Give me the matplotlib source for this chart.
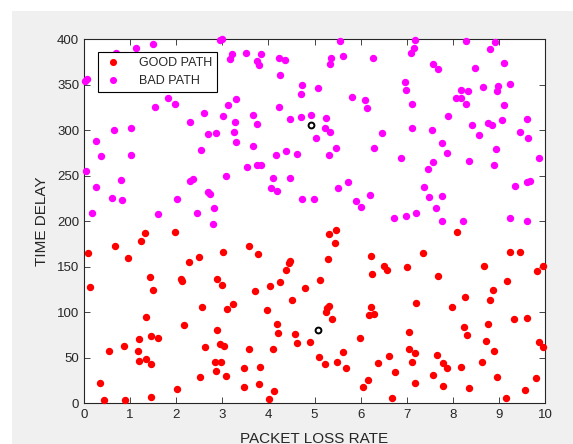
import matplotlib
matplotlib.use("Agg")
import matplotlib.pyplot as plt
from matplotlib.patches import Rectangle

plt.rcParams['font.family'] = ['Liberation Sans', 'DejaVu Sans']

# GOOD PATH points (packet loss rate, time delay)
good_x = [1.32, 1.97, 1.23, 0.68, 0.09, 0.95, 3.02, 2.50, 2.27, 1.44, 2.10, 2.12, 2.88, 2.99,
          0.12, 1.49, 2.57, 3.23, 3.11, 1.35, 2.16, 2.88, 1.46, 1.60, 1.20, 0.86, 0.55, 1.18,
          2.62, 2.94, 3.04, 1.20, 1.35, 1.46, 2.84, 2.97, 2.86, 3.07, 2.52, 0.34, 2.01, 1.45,
          0.43, 0.88,
          5.47, 5.31, 5.44, 3.59, 3.77, 4.47, 4.45, 5.29, 6.22, 6.51, 6.57, 6.25, 4.38, 4.26,
          4.03, 3.70, 4.79, 5.11, 4.51, 3.97, 5.31, 5.28, 5.26, 5.38, 6.23, 6.19, 6.29, 4.19,
          4.21, 4.58, 4.61, 4.90, 5.98, 3.57, 4.10, 5.09, 5.61, 5.23, 5.48, 5.68, 6.38, 6.62,
          3.46, 3.82, 3.46, 3.80, 4.12, 4.01, 6.15, 6.06,
          8.09, 7.36, 9.23, 9.46, 7.00, 7.67, 8.68, 9.18, 9.82, 9.96, 8.88, 8.81, 8.26, 7.20,
          7.98, 8.77, 9.33, 9.60, 8.25, 8.30, 7.05, 8.71, 8.89, 9.88, 9.96, 7.06, 7.17, 7.65,
          7.11, 7.78, 7.87, 8.17, 8.63, 6.75, 7.58, 7.18, 7.79, 8.36, 8.96, 9.80, 9.57, 6.68,
          9.15]
good_y = [187, 188, 178, 172, 165, 159, 166, 160, 155, 138, 136, 134, 136, 130,
          127, 124, 106, 109, 103, 94, 86, 80, 74, 71, 70, 63, 57, 57,
          62, 65, 63, 46, 48, 43, 45, 45, 35, 30, 29, 22, 15, 7,
          3, 3,
          190, 186, 176, 173, 164, 156, 154, 158, 162, 151, 146, 142, 146, 133,
          129, 123, 126, 135, 113, 102, 107, 104, 100, 92, 106, 97, 98, 87,
          77, 76, 66, 67, 71, 59, 59, 51, 56, 43, 45, 38, 44, 52,
          38, 40, 18, 21, 13, 4, 25, 18,
          188, 165, 166, 166, 149, 140, 151, 134, 145, 151, 124, 113, 116, 110,
          105, 87, 92, 93, 83, 75, 78, 68, 57, 67, 61, 59, 55, 53,
          45, 44, 38, 40, 45, 34, 31, 22, 19, 17, 29, 28, 14, 5,
          5]

# BAD PATH points
bad_x = [2.95, 2.99, 1.49, 1.13, 0.69, 3.20, 3.17, 0.07, 0.02, 1.83, 1.97, 1.53, 3.30, 3.12,
         2.60, 3.01, 2.31, 3.28, 0.64, 1.02, 2.70, 2.86, 3.26, 3.30, 0.25, 0.37, 1.02, 2.54,
         0.04, 0.80, 2.31, 2.37, 3.08, 0.25, 2.70, 2.74, 0.61, 0.82, 2.02, 2.81, 0.17, 1.61,
         2.45, 2.79,
         5.55, 3.51, 3.83, 3.75, 3.80, 4.24, 4.37, 5.36, 5.34, 5.62, 6.26, 4.25, 4.73, 4.70,
         5.08, 5.81, 6.10, 6.13, 4.24, 3.67, 3.75, 4.46, 4.71, 4.92, 5.25, 5.23, 5.33, 6.46,
         5.04, 3.67, 5.46, 6.28, 4.16, 4.38, 4.61, 5.31, 3.54, 3.75, 3.83, 4.10, 4.47, 4.05,
         4.19, 5.73, 5.52, 6.20, 5.91, 6.01, 4.72, 4.99,
         7.17, 8.29, 8.91, 8.80, 7.16, 7.09, 7.57, 7.67, 8.48, 9.12, 6.97, 6.98, 8.18, 8.34,
         8.65, 8.97, 8.95, 9.23, 8.06, 8.18, 8.29, 7.12, 9.12, 7.90, 7.11, 7.54, 8.42, 8.76,
         8.86, 8.56, 9.07, 9.62, 9.45, 9.63, 7.76, 7.87, 8.94, 6.88, 7.56, 8.36, 8.89, 9.88,
         7.46, 7.37, 7.48, 7.77, 7.64, 9.36, 9.60, 9.67, 6.72, 6.98, 7.20, 7.76, 8.22, 9.23,
         9.62]
bad_y = [399, 400, 394, 390, 385, 383, 378, 356, 354, 335, 329, 325, 334, 327,
         319, 315, 309, 309, 300, 302, 296, 297, 298, 287, 288, 271, 272, 278,
         255, 245, 244, 246, 249, 237, 232, 230, 225, 223, 224, 214, 209, 208,
         209, 197,
         398, 385, 383, 376, 371, 379, 377, 379, 373, 381, 379, 360, 349, 340,
         346, 336, 333, 324, 325, 316, 307, 312, 314, 316, 313, 302, 298, 297,
         291, 282, 280, 280, 273, 277, 274, 273, 259, 262, 262, 247, 247, 236,
         233, 243, 236, 229, 222, 215, 224, 224,
         399, 398, 397, 389, 390, 385, 373, 367, 368, 374, 353, 344, 344, 343,
         347, 348, 343, 351, 335, 335, 329, 329, 328, 315, 302, 300, 306, 308,
         305, 295, 311, 312, 298, 291, 286, 275, 279, 269, 265, 266, 261, 269,
         257, 237, 226, 227, 214, 238, 243, 244, 203, 205, 209, 200, 200, 203,
         200]

# two highlighted points (open black circles)
mark_x = [4.92, 5.08]
mark_y = [305, 80]

x_ticks = list(range(0, 11))
y_ticks = list(range(0, 401, 50))

fig = plt.figure(figsize=(5.73, 4.44), dpi=100)
fig.patch.set_facecolor('white')
fig.patches.append(Rectangle((12 / 573, 0), 1 - 12 / 573, 433 / 444,
                             transform=fig.transFigure, facecolor='#f0f0f0',
                             edgecolor='none', zorder=-5))

ax = fig.add_axes([84 / 573, 41 / 444, 461 / 573, 364 / 444])
ax.set_zorder(1)
ax.set_facecolor('white')

ax.plot(good_x, good_y, 'o', color='#ff0000', ms=4.3, mec='#ff0000', clip_on=False,
        label='GOOD PATH', zorder=3)
ax.plot(bad_x, bad_y, 'o', color='#ff00ff', ms=4.3, mec='#ff00ff', clip_on=False,
        label='BAD PATH', zorder=3)
ax.plot(mark_x, mark_y, 'o', mfc='none', mec='black', mew=1.4, ms=4.2, zorder=4)

ax.set_xlim(0, 10)
ax.set_ylim(0, 400)
ax.set_xticks(x_ticks)
ax.set_yticks(y_ticks)
ax.tick_params(direction='in', length=4, width=0.6, colors='#262626', labelsize=9.5,
               top=True, right=True)
ax.tick_params(axis='x', pad=4)
for s in ax.spines.values():
    s.set_color('#262626')
    s.set_linewidth(0.8)

ax.set_xlabel('PACKET LOSS RATE', fontsize=11, color='#262626', labelpad=8)
ax.set_ylabel('TIME DELAY', fontsize=11, color='#262626', labelpad=6)

leg = ax.legend(loc='upper left', bbox_to_anchor=(0.030, 0.9635), borderaxespad=0,
                fancybox=False, edgecolor='black', framealpha=1, fontsize=9,
                handlelength=1.6, handletextpad=1.3, borderpad=0.4, labelspacing=0.45,
                markerscale=0.95)
leg.get_frame().set_linewidth(0.8)
leg.set_zorder(10)
for t in leg.get_texts():
    t.set_color('#262626')

plt.savefig('out.png', dpi=100)
